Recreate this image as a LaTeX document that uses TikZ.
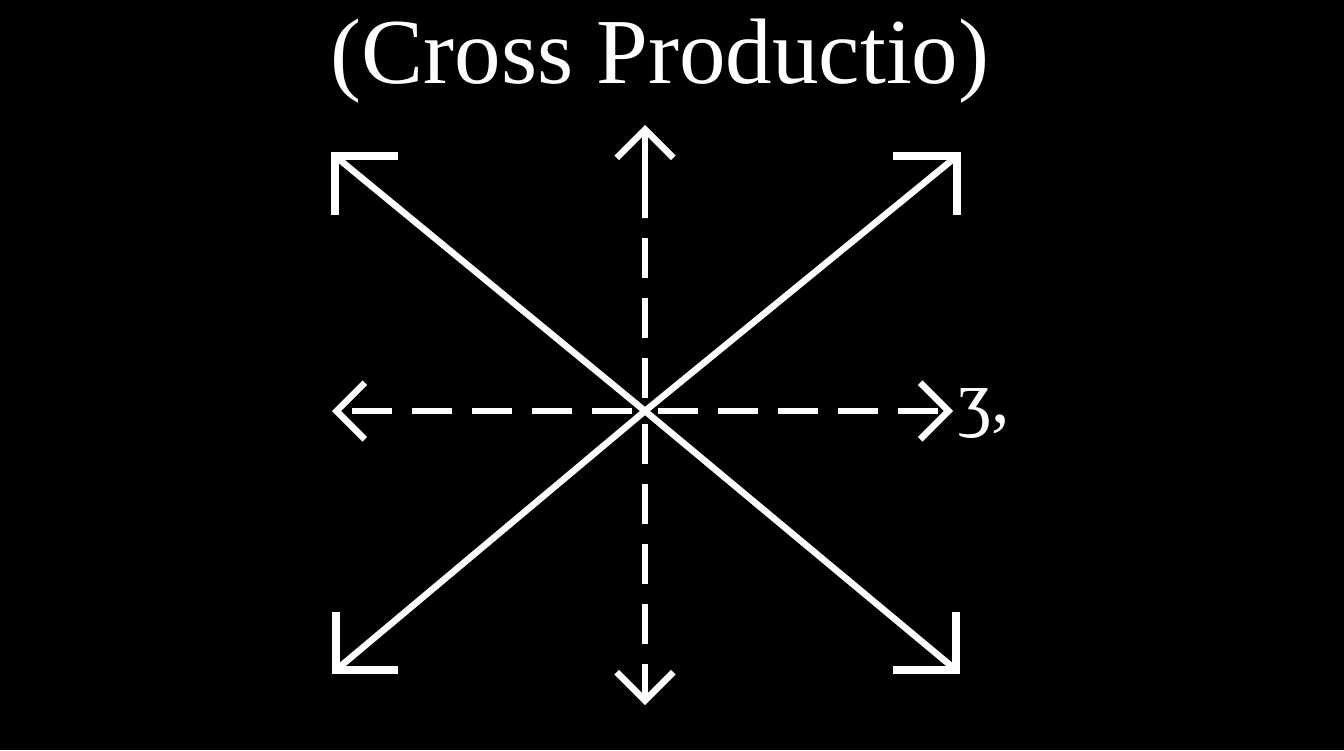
\documentclass[tikz,border=0pt]{standalone}
\usepackage{fontspec}
\setmainfont{Liberation Serif}
\usetikzlibrary{arrows.meta,calc}
\begin{document}
\begin{tikzpicture}[x=1pt,y=-1pt,
  diag/.style={draw=white,line width=6.5pt},
  bracket/.style={draw=white,line width=8pt,line join=miter,line cap=butt},
  dashaxis/.style={draw=white,line width=6.5pt,dash pattern=on 40pt off 20pt,dash phase=47pt},
  solidaxis/.style={draw=white,line width=6.5pt},
  tip/.style={-{Straight Barb[angle=90:40pt]}},
  txt/.style={text=white,inner sep=0pt}
]
\fill[black] (0,0) rectangle (1344,750);
\useasboundingbox (0,0) rectangle (1344,750);
% title
\node[txt,anchor=base,font=\fontsize{93}{100}\selectfont] (title) at (660,83) {(Cross Productio)};
% key points
\coordinate (O) at (645,411);
\coordinate (TL) at (335,156);
\coordinate (TR) at (957,156);
\coordinate (BL) at (336,670);
\coordinate (BR) at (956,670);
\coordinate (U) at (645,125);
\coordinate (Ua) at (645,218);
\coordinate (D) at (645,705);
\coordinate (L) at (332,411);
\coordinate (R) at (953,411);
% diagonals
\draw[diag] (O) -- (TL);
\draw[diag] (O) -- (TR);
\draw[diag] (O) -- (BL);
\draw[diag] (O) -- (BR);
% corner brackets
\draw[bracket] ($(TL)+(63,0)$) -- (TL) -- ($(TL)+(0,59)$);
\draw[bracket] ($(TR)+(-64,0)$) -- (TR) -- ($(TR)+(0,59)$);
\draw[bracket] ($(BL)+(62,0)$) -- (BL) -- ($(BL)+(0,-58)$);
\draw[bracket] ($(BR)+(-63,0)$) -- (BR) -- ($(BR)+(0,-58)$);
% dashed axes
\draw[dashaxis] (O) -- (Ua);
\draw[solidaxis,tip] (Ua) -- (U);
\draw[dashaxis,tip] (O) -- (D);
\draw[dashaxis,tip] (O) -- (L);
\draw[dashaxis,tip] (O) -- (R);
% label
\node[txt,anchor=base west,font=\fontsize{74}{78}\selectfont] (lbl) at (958,422) {ʒ,};
\end{tikzpicture}
\end{document}
